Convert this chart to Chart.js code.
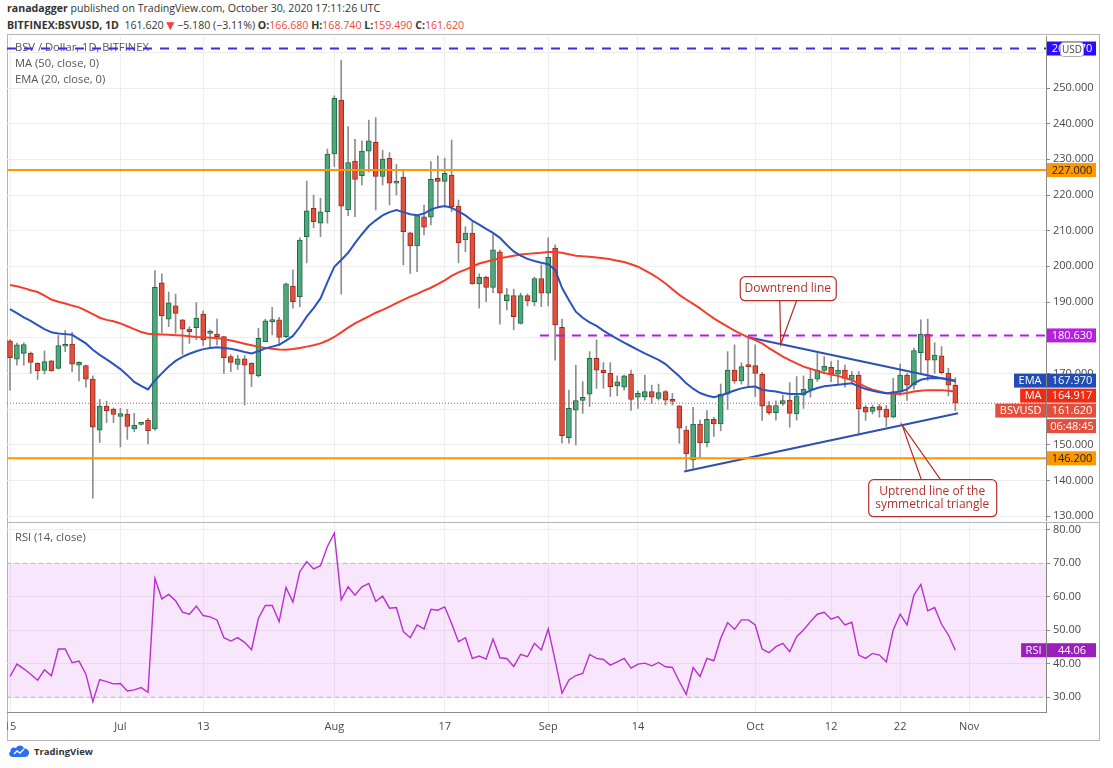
<!DOCTYPE html>
<html lang="en">
<head>
<meta charset="utf-8">
<title>BSVUSD 1D</title>
<script src="https://cdn.jsdelivr.net/npm/chart.js@4.4.1/dist/chart.umd.min.js"></script>
<style>
  body { margin: 0; background: #fff; font-family: "Open Sans", "DejaVu Sans", sans-serif; }
  #page { position: relative; width: 1113px; height: 768px; overflow: hidden; background: #fff; }
  .hdr { position: absolute; left: 7px; font-size: 10.6px; color: #333; white-space: nowrap; }
  #hdr1 { top: 1px; }
  #hdr2 { top: 18px; }
  .b { font-weight: bold; }
  .r { color: #f0463b; }
  #frame { position: absolute; left: 7px; top: 34px; width: 1093px; height: 707px; border: 1px solid #b5b5b5; box-sizing: border-box; }
  #priceBox { position: absolute; left: 7px; top: 36px; width: 1092px; height: 485px; }
  #rsiBox { position: absolute; left: 7px; top: 522px; width: 1092px; height: 218px; }
  #logo { position: absolute; left: 8px; top: 744px; font-size: 9.5px; font-weight: bold; color: #333; display: flex; align-items: center; gap: 4px; }
</style>
</head>
<body>
<div id="page">
  <div class="hdr" id="hdr1"><span class="b">ranadagger</span> published on TradingView.com, October 30, 2020 17:11:26 UTC</div>
  <div class="hdr" id="hdr2"><span class="b">BITFINEX:BSVUSD, 1D</span>&nbsp; 161.620 <span class="r">▼</span> −5.180 (−3.11%) <span class="b">O:</span><span class="r">166.680</span> <span class="b">H:</span><span class="r">168.740</span> <span class="b">L:</span><span class="r">159.490</span> <span class="b">C:</span><span class="r">161.620</span></div>
  <div id="frame"></div>
  <div id="priceBox"><canvas id="priceChart" width="1092" height="485"></canvas></div>
  <div id="rsiBox"><canvas id="rsiChart" width="1092" height="218"></canvas></div>
  <div id="logo">
    <svg width="22" height="14" viewBox="0 0 22 14"><path d="M5 13 C1 13 0 9 2.5 7.5 C2 4 5.5 2.5 8 4 C9.5 0.5 15 0.5 16 4.5 C19.5 4.5 21.5 7 21 9.5 C20.5 12 18.5 13 16.5 13 Z" fill="#2d6cf0"/><path d="M6 10 L9 7 L12 9 L16 5" stroke="#fff" stroke-width="1.4" fill="none"/></svg>
    <span>TradingView</span>
  </div>
</div>

<script>
// daily candles, 15 Jun 2020 (day 0) .. 30 Oct 2020 (day 137)
const opens = [
  179.1, 174.0, 175.6, 175.6, 172.8, 170.8, 173.5, 171.4, 177.6, 178.2,
  172.3, 172.2, 168.4, 154.1, 160.8, 160.0, 157.9, 158.6, 154.4, 155.7,
  156.9, 154.4, 195.4, 185.2, 188.9, 185.0, 182.4, 182.8, 186.6, 181.2,
  181.0, 180.3, 174.7, 172.5, 174.1, 172.8, 169.3, 178.9, 184.5, 185.0,
  180.3, 194.5, 191.5, 208.3, 216.3, 212.1, 215.3, 231.5, 246.6, 215.8,
  229.5, 225.4, 232.3, 234.8, 225.2, 230.3, 223.3, 225.0, 209.4, 205.7,
  213.9, 213.8, 224.7, 223.8, 225.6, 216.9, 207.4, 209.3, 195.1, 196.9,
  194.1, 204.1, 190.4, 191.8, 184.0, 191.8, 190.1, 196.6, 192.5, 205.1,
  182.9, 152.0, 159.7, 162.4, 164.2, 174.2, 170.9, 170.0, 166.5, 166.1,
  169.8, 163.3, 163.5, 164.9, 163.0, 164.9, 162.7, 160.9, 154.1, 145.7,
  155.8, 150.6, 157.1, 155.8, 164.2, 170.9, 167.9, 172.3, 172.2, 169.8,
  161.0, 159.0, 161.4, 162.5, 158.6, 163.9, 165.5, 168.4, 170.8, 171.7,
  169.8, 170.9, 168.3, 169.5, 160.5, 159.3, 160.7, 160.0, 157.7, 164.9,
  169.5, 166.7, 175.8, 181.0, 173.7, 174.9, 170.0, 166.68
];
const highs = [
  179.5, 178.5, 178.6, 176.0, 173.0, 176.3, 173.6, 180.6, 182.0, 181.5,
  173.2, 172.3, 169.3, 162.7, 162.2, 160.3, 160.2, 159.9, 158.8, 156.0,
  157.4, 198.8, 197.9, 192.8, 192.2, 185.1, 183.1, 189.8, 187.5, 182.2,
  185.2, 180.4, 175.2, 175.1, 175.0, 173.0, 182.6, 185.2, 188.5, 185.7,
  195.3, 199.0, 208.0, 223.9, 220.0, 219.1, 232.9, 247.8, 257.8, 239.2,
  235.6, 235.2, 241.0, 241.7, 232.6, 231.9, 228.6, 226.6, 209.6, 214.5,
  217.2, 229.4, 231.0, 230.3, 235.4, 218.6, 211.1, 212.5, 197.9, 197.3,
  209.1, 204.6, 193.8, 193.6, 192.5, 192.3, 197.0, 200.4, 208.0, 206.0,
  185.2, 165.3, 172.3, 167.7, 176.1, 179.4, 173.0, 173.0, 169.3, 169.5,
  170.9, 165.0, 169.5, 166.7, 167.0, 165.2, 164.4, 161.0, 155.2, 160.5,
  156.9, 159.6, 157.7, 167.0, 176.1, 178.0, 173.0, 180.3, 178.0, 170.3,
  162.1, 162.3, 163.9, 167.4, 169.1, 169.3, 171.4, 175.6, 174.7, 173.3,
  173.7, 172.3, 170.5, 170.5, 161.0, 161.1, 161.3, 161.0, 168.6, 172.6,
  170.0, 177.0, 185.0, 185.2, 178.6, 177.5, 171.4, 168.74
];
const lows = [
  165.3, 172.3, 172.3, 170.0, 168.3, 169.8, 170.6, 171.2, 176.1, 170.5,
  167.9, 166.1, 135.0, 150.6, 156.2, 156.2, 149.4, 151.5, 153.7, 155.5,
  150.2, 154.0, 181.4, 183.1, 181.2, 175.3, 178.4, 179.4, 177.7, 177.0,
  178.0, 170.0, 170.5, 171.1, 161.1, 166.3, 169.0, 178.9, 180.8, 178.0,
  180.0, 188.3, 188.7, 201.0, 210.8, 208.3, 212.1, 228.0, 192.2, 214.2,
  213.9, 222.8, 226.5, 215.8, 222.8, 217.2, 220.0, 200.4, 198.0, 198.5,
  208.8, 211.6, 216.3, 216.6, 215.3, 201.0, 204.1, 195.0, 188.3, 190.1,
  192.6, 183.8, 187.8, 182.2, 183.8, 188.9, 188.9, 188.7, 188.9, 173.7,
  150.4, 150.4, 149.9, 158.8, 160.7, 165.8, 165.8, 163.5, 163.7, 165.3,
  159.6, 160.2, 162.5, 161.6, 162.5, 161.1, 161.1, 150.4, 143.1, 143.4,
  146.2, 149.4, 152.3, 153.9, 159.9, 167.2, 167.0, 166.3, 163.5, 156.8,
  158.5, 156.9, 161.0, 154.9, 156.9, 160.2, 163.3, 167.7, 170.0, 167.7,
  167.0, 166.1, 167.4, 152.7, 156.8, 158.6, 157.7, 155.1, 157.5, 163.9,
  162.4, 165.6, 170.0, 168.0, 170.0, 169.8, 163.7, 159.49
];
const closes = [
  174.4, 178.0, 178.1, 173.1, 170.7, 173.3, 170.7, 177.8, 177.8, 172.6,
  173.1, 168.4, 154.9, 160.8, 159.5, 158.5, 158.7, 155.1, 155.4, 155.9,
  153.9, 194.1, 186.1, 189.8, 186.8, 182.4, 181.7, 185.5, 179.4, 181.6,
  180.3, 174.4, 173.1, 174.1, 172.3, 169.8, 179.8, 184.7, 185.0, 180.1,
  195.1, 190.1, 207.4, 215.6, 212.5, 215.3, 231.5, 247.1, 216.9, 229.1,
  224.4, 232.3, 235.2, 225.2, 230.1, 223.3, 223.9, 209.7, 205.7, 214.2,
  211.0, 224.4, 223.8, 226.1, 216.7, 206.6, 209.3, 195.1, 196.9, 194.1,
  204.6, 192.5, 192.0, 185.9, 191.8, 190.3, 196.6, 192.5, 202.5, 183.6,
  152.5, 160.2, 162.4, 163.3, 174.2, 170.9, 170.2, 166.3, 167.6, 169.3,
  162.7, 164.4, 164.9, 163.3, 164.6, 162.5, 162.1, 154.6, 147.4, 155.8,
  150.6, 157.1, 155.8, 164.2, 170.9, 167.9, 171.9, 171.9, 170.0, 160.8,
  159.0, 161.0, 162.4, 158.8, 163.7, 165.5, 168.4, 170.9, 172.0, 169.8,
  170.9, 168.6, 169.5, 160.0, 159.1, 160.5, 159.7, 157.7, 164.9, 169.5,
  166.7, 176.4, 181.0, 173.7, 175.1, 170.2, 166.7, 161.62
];
// MA (50, close) and EMA (20, close)
const ma50 = [
  194.8, 194.4, 193.9, 193.3, 192.8, 191.8, 190.7, 190.1, 189.6, 189.0,
  188.5, 187.6, 186.6, 185.6, 185.0, 184.6, 184.0, 183.2, 182.4, 181.6,
  181.1, 181.0, 180.9, 180.8, 180.7, 180.6, 180.4, 180.2, 180.1, 180.0,
  179.9, 179.6, 179.2, 178.8, 178.3, 177.9, 177.5, 177.1, 176.9, 176.7,
  176.6, 176.8, 177.1, 177.5, 177.9, 178.4, 179.2, 180.2, 181.5, 182.8,
  184.0, 185.0, 186.0, 187.0, 187.8, 188.7, 189.7, 190.6, 191.5, 192.3,
  193.2, 194.0, 195.0, 196.1, 197.3, 198.3, 199.1, 199.9, 200.8, 201.3,
  201.8, 202.3, 202.6, 203.0, 203.3, 203.5, 203.7, 203.8, 204.0, 204.0,
  203.8, 203.4, 203.0, 202.8, 202.7, 202.5, 202.3, 202.0, 201.6, 201.2,
  200.6, 199.9, 198.9, 197.8, 196.6, 195.2, 193.6, 192.0, 190.7, 189.5,
  188.2, 186.8, 185.4, 184.2, 183.1, 182.0, 181.0, 180.1, 179.3, 178.4,
  177.1, 175.9, 174.7, 173.7, 172.8, 171.9, 171.3, 170.7, 170.1, 169.7,
  169.3, 168.7, 168.1, 167.2, 166.2, 165.4, 164.9, 164.4, 164.3, 164.2,
  164.5, 164.9, 165.1, 165.3, 165.3, 165.3, 165.1, 164.917
];
const ema20 = [
  188.0, 186.9, 185.7, 184.7, 183.5, 182.4, 181.5, 181.2, 181.0, 180.8,
  179.6, 178.4, 176.6, 175.2, 173.9, 172.6, 171.2, 169.5, 167.6, 166.5,
  165.5, 168.0, 170.0, 171.9, 173.5, 174.6, 175.5, 176.2, 176.8, 177.1,
  177.3, 177.1, 176.9, 176.5, 176.0, 175.6, 176.2, 177.0, 177.5, 178.0,
  179.2, 180.5, 183.0, 185.9, 188.3, 191.0, 195.6, 199.9, 201.8, 203.8,
  206.5, 209.0, 211.3, 212.9, 214.3, 215.2, 215.8, 215.2, 214.6, 214.3,
  214.8, 215.9, 216.6, 216.9, 216.4, 215.4, 214.3, 212.8, 211.7, 210.5,
  209.4, 208.0, 206.0, 204.2, 203.0, 202.1, 201.5, 201.0, 200.6, 199.0,
  194.0, 190.5, 187.3, 185.6, 184.3, 183.3, 182.0, 180.8, 179.7, 178.6,
  177.6, 176.6, 175.6, 174.7, 173.8, 172.6, 170.9, 169.2, 167.2, 165.7,
  164.5, 163.8, 163.3, 163.8, 164.5, 165.2, 165.8, 166.2, 166.3, 165.4,
  165.1, 164.9, 164.5, 164.2, 164.2, 164.3, 165.2, 165.9, 166.4, 166.6,
  166.8, 167.0, 167.2, 166.4, 165.6, 165.1, 164.7, 164.4, 164.6, 164.9,
  165.5, 167.2, 168.2, 168.6, 168.7, 168.6, 168.4, 167.97
];
// RSI (14, close)
const rsi14 = [
  36.2, 39.9, 38.5, 36.9, 35.1, 38.2, 36.4, 44.4, 44.4, 40.3,
  40.8, 36.9, 28.7, 35.3, 34.7, 34.0, 34.1, 31.9, 32.2, 32.9,
  31.5, 65.5, 59.4, 60.7, 58.8, 55.4, 54.8, 57.2, 54.4, 54.0,
  53.1, 47.8, 46.8, 47.8, 46.4, 44.2, 53.6, 57.4, 57.4, 52.6,
  62.8, 58.4, 67.5, 70.5, 68.3, 69.3, 75.0, 79.0, 59.1, 63.0,
  60.5, 63.0, 64.0, 58.6, 60.2, 56.6, 56.8, 49.6, 47.8, 51.6,
  50.4, 56.3, 56.0, 57.0, 52.0, 46.6, 47.8, 41.6, 42.3, 41.4,
  47.4, 41.8, 41.6, 39.2, 42.8, 42.1, 46.1, 44.1, 50.4, 41.0,
  31.2, 35.2, 36.5, 37.1, 42.8, 41.6, 41.3, 39.6, 40.6, 41.6,
  38.7, 39.9, 40.2, 39.4, 40.4, 39.1, 38.9, 34.7, 30.9, 38.9,
  36.2, 41.6, 40.9, 47.6, 52.3, 50.3, 53.1, 53.1, 51.6, 44.4,
  43.3, 45.1, 46.1, 43.6, 48.1, 50.1, 52.6, 54.8, 55.4, 53.3,
  54.1, 51.6, 52.4, 42.6, 41.6, 43.1, 42.6, 40.6, 50.1, 54.8,
  51.6, 60.5, 63.7, 55.8, 56.8, 51.8, 48.6, 44.06
];

// axis ticks (day index from 15 Jun)
const dayTicks = [0, 16, 28, 47, 63, 78, 91, 108, 119, 129, 139];
const dayLabels = ["15", "Jul", "13", "Aug", "17", "Sep", "14", "Oct", "12", "22", "Nov"];
const priceTicks = [130, 140, 150, 160, 170, 180, 190, 200, 210, 220, 230, 240, 250, 260];
const rsiTicks = [30, 40, 50, 60, 70, 80];

// drawn levels and trendlines
const levelPrices = [227.0, 146.2];
const resistance = { price: 180.63, fromDay: 76.8 };
const topLevel = 261.07;
const downTrend = { days: [107, 137], prices: [180.1, 167.8] };
const upTrend = { days: [97.7, 137.4], prices: [142.5, 158.8] };
const rsiBand = [30, 70];

const days = closes.map((c, i) => i);
const lastClose = closes[closes.length - 1];
const xMin = -0.435, xMax = 150.14;

const upFill = "#4fa77b", upLine = "#1d6b45";
const downFill = "#e2503d", downLine = "#9f2a1c";
const fontFam = "'Open Sans', 'DejaVu Sans', sans-serif";

Chart.defaults.font.family = fontFam;
Chart.defaults.font.size = 11;
Chart.defaults.animation = false;

function flat(y, x0, x1) {
  return [{ x: x0, y: y }, { x: x1, y: y }];
}
function lineAt(t, d) {
  return t.prices[0] + (t.prices[1] - t.prices[0]) * (d - t.days[0]) / (t.days[1] - t.days[0]);
}
function lineDs(label, data, color, width, dash) {
  return {
    type: "line", label: label, data: data, borderColor: color, borderWidth: width,
    borderDash: dash || [], pointRadius: 0, tension: 0, fill: false, order: 1
  };
}
function tag(ctx, area, y, text, bg, fg, name) {
  ctx.font = "11px " + fontFam;
  ctx.textBaseline = "middle";
  const x0 = area.right + 1;
  ctx.fillStyle = bg;
  ctx.fillRect(x0, y - 7, 49, 14);
  ctx.fillStyle = fg;
  ctx.textAlign = "center";
  ctx.fillText(text, x0 + 25, y + 0.5);
  if (name) {
    const w = ctx.measureText(name).width + 9;
    ctx.fillStyle = bg;
    ctx.fillRect(area.right - w, y - 7, w, 14);
    ctx.fillStyle = fg;
    ctx.fillText(name, area.right - w / 2, y + 0.5);
  }
}

// texts, callouts and price tags of the main pane
const pricePaneExtras = {
  id: "pricePaneExtras",
  beforeDatasetsDraw(chart) {
    const ctx = chart.ctx;
    ctx.save();
    ctx.font = "11.2px " + fontFam;
    ctx.fillStyle = "#555";
    ctx.textBaseline = "middle";
    ctx.textAlign = "left";
    ctx.fillText("BSV / Dollar, 1D, BITFINEX", 8, 12);
    ctx.fillText("MA (50, close, 0)", 8, 28);
    ctx.fillText("EMA (20, close, 0)", 8, 44);
    ctx.restore();
  },
  afterDatasetsDraw(chart) {
    const ctx = chart.ctx, xs = chart.scales.x, ys = chart.scales.y;
    const callouts = [
      { trend: downTrend, day: 111.7, text: ["Downtrend line"], box: [-41, -68, 96, 24], base: [-1, 16] },
      { trend: upTrend, day: 129.3, text: ["Uptrend line of the", "symmetrical triangle"], box: [-34, 54, 128, 37], base: [19, 38] }
    ];
    ctx.save();
    callouts.forEach(c => {
      const tx = xs.getPixelForValue(c.day), ty = ys.getPixelForValue(lineAt(c.trend, c.day));
      const bx = tx + c.box[0], by = ty + c.box[1], bw = c.box[2], bh = c.box[3];
      const baseY = c.box[1] < 0 ? by + bh : by;
      ctx.strokeStyle = "#b3302a";
      ctx.lineWidth = 1.2;
      ctx.beginPath();
      ctx.moveTo(tx + c.base[0], baseY);
      ctx.lineTo(tx, ty);
      ctx.lineTo(tx + c.base[1], baseY);
      ctx.stroke();
      ctx.beginPath();
      ctx.roundRect(bx + 0.5, by + 0.5, bw, bh, 5);
      ctx.fillStyle = "#fff";
      ctx.fill();
      ctx.stroke();
      ctx.fillStyle = "#b3302a";
      ctx.font = "12px " + fontFam;
      ctx.textAlign = "center";
      ctx.textBaseline = "middle";
      const mid = by + bh / 2, lh = 13;
      c.text.forEach((s, i) => {
        ctx.fillText(s, bx + bw / 2, mid + (i - (c.text.length - 1) / 2) * lh + 0.5);
      });
    });
    ctx.restore();
  },
  afterDraw(chart) {
    const ctx = chart.ctx, area = chart.chartArea, ys = chart.scales.y;
    ctx.save();
    tag(ctx, area, ys.getPixelForValue(topLevel), topLevel.toFixed(3), "#2a0cff", "#fff");
    tag(ctx, area, ys.getPixelForValue(levelPrices[0]), levelPrices[0].toFixed(3), "#ff9800", "#222");
    tag(ctx, area, ys.getPixelForValue(levelPrices[1]), levelPrices[1].toFixed(3), "#ff9800", "#222");
    tag(ctx, area, ys.getPixelForValue(resistance.price), resistance.price.toFixed(3), "#b51fe0", "#fff");
    // stacked tags pushed apart like the platform does
    const stack = [
      { v: ema20[ema20.length - 1], name: "EMA", bg: "#1f4cb5" },
      { v: ma50[ma50.length - 1], name: "MA", bg: "#f4290f" },
      { v: lastClose, name: "BSVUSD", bg: "#e2503d" }
    ];
    let prev = -100;
    stack.forEach(s => {
      let y = Math.max(ys.getPixelForValue(s.v), prev + 15);
      tag(ctx, area, y, s.v.toFixed(3), s.bg, "#fff", s.name);
      prev = y;
    });
    tag(ctx, area, prev + 15.5, "06:48:45", "#e2503d", "#fff");
    // currency box
    ctx.beginPath();
    ctx.roundRect(area.right + 14.5, 6.5, 23, 14, 3);
    ctx.fillStyle = "#fff";
    ctx.fill();
    ctx.strokeStyle = "#b0b0b0";
    ctx.lineWidth = 1;
    ctx.stroke();
    ctx.fillStyle = "#444";
    ctx.font = "10px " + fontFam;
    ctx.textAlign = "center";
    ctx.textBaseline = "middle";
    ctx.fillText("USD", area.right + 26, 14);
    ctx.restore();
  }
};

new Chart(document.getElementById("priceChart"), {
  type: "bar",
  data: {
    datasets: [
      lineDs("EMA", days.map(d => ({ x: d, y: ema20[d] })), "#2b53c0", 2),
      lineDs("MA", days.map(d => ({ x: d, y: ma50[d] })), "#f53d2b", 2),
      lineDs("top", flat(topLevel, xMin, xMax), "#3a2cf0", 2, [9, 8]),
      lineDs("level1", flat(levelPrices[0], xMin, xMax), "#ff9800", 2),
      lineDs("level2", flat(levelPrices[1], xMin, xMax), "#ff9800", 2),
      lineDs("resistance", flat(resistance.price, resistance.fromDay, xMax), "#b51fe0", 2, [9, 7]),
      lineDs("close", flat(lastClose, xMin, xMax), "#e2503d", 1, [1, 2]),
      lineDs("downtrend", downTrend.days.map((d, i) => ({ x: d, y: downTrend.prices[i] })), "#2d4fb0", 2),
      lineDs("uptrend", upTrend.days.map((d, i) => ({ x: d, y: upTrend.prices[i] })), "#2d4fb0", 2),
      {
        type: "bar", label: "wicks", order: 10, grouped: false,
        data: days.map(d => ({ x: d, y: [lows[d], highs[d]] })),
        backgroundColor: "#8d8d8d", barThickness: 1
      },
      {
        type: "bar", label: "bodies", order: 9, grouped: false,
        data: days.map(d => ({ x: d, y: [opens[d], closes[d]] })),
        backgroundColor: c => closes[c.dataIndex] >= opens[c.dataIndex] ? upFill : downFill,
        borderColor: c => closes[c.dataIndex] >= opens[c.dataIndex] ? upLine : downLine,
        borderWidth: 1, borderSkipped: false, barThickness: 5, minBarLength: 2
      }
    ]
  },
  options: {
    responsive: false,
    devicePixelRatio: 1,
    layout: { padding: 0 },
    plugins: { legend: { display: false }, tooltip: { enabled: false } },
    scales: {
      x: {
        type: "linear", min: xMin, max: xMax, offset: false,
        grid: { color: "#eeeeee", drawTicks: false, offset: false },
        border: { display: false },
        ticks: { display: false },
        afterBuildTicks: s => { s.ticks = dayTicks.map(v => ({ value: v })); },
        afterFit: s => { s.height = 0; s.paddingLeft = 0; s.paddingRight = 0; }
      },
      y: {
        position: "right", min: 128.61, max: 264.58,
        grid: { color: "#eeeeee", tickColor: "#8a8a8a", tickLength: 4 },
        border: { color: "#8a8a8a" },
        ticks: { color: "#4a4a4a", padding: 3, callback: v => v.toFixed(3) },
        afterBuildTicks: s => { s.ticks = priceTicks.map(v => ({ value: v })); },
        afterFit: s => { s.width = 53; s.paddingTop = 0; s.paddingBottom = 0; }
      }
    }
  },
  plugins: [pricePaneExtras]
});

// RSI pane
const rsiPaneExtras = {
  id: "rsiPaneExtras",
  beforeDatasetsDraw(chart) {
    const ctx = chart.ctx;
    ctx.save();
    ctx.font = "11.2px " + fontFam;
    ctx.fillStyle = "#555";
    ctx.textBaseline = "middle";
    ctx.fillText("RSI (14, close)", 8, 16);
    ctx.restore();
  },
  afterDraw(chart) {
    const ctx = chart.ctx, area = chart.chartArea, ys = chart.scales.y;
    ctx.save();
    ctx.strokeStyle = "#b5b5b5";
    ctx.lineWidth = 1;
    ctx.beginPath();
    ctx.moveTo(0, 0.5);
    ctx.lineTo(chart.width, 0.5);
    ctx.stroke();
    const last = rsi14[rsi14.length - 1];
    tag(ctx, area, ys.getPixelForValue(last), last.toFixed(2), "#9c1fbd", "#fff", "RSI");
    ctx.restore();
  }
};

new Chart(document.getElementById("rsiChart"), {
  type: "line",
  data: {
    datasets: [
      { label: "RSI", data: days.map(d => ({ x: d, y: rsi14[d] })), borderColor: "#b92fcf", borderWidth: 1.4, pointRadius: 0, tension: 0, fill: false, order: 1 },
      { label: "upper", data: flat(rsiBand[1], xMin, xMax), borderColor: "#b9b9b9", borderWidth: 1, borderDash: [4, 4], pointRadius: 0, fill: "+1", backgroundColor: "rgba(220, 130, 245, 0.2)", order: 2 },
      { label: "lower", data: flat(rsiBand[0], xMin, xMax), borderColor: "#b9b9b9", borderWidth: 1, borderDash: [4, 4], pointRadius: 0, fill: false, order: 3 }
    ]
  },
  options: {
    responsive: false,
    devicePixelRatio: 1,
    layout: { padding: 0 },
    plugins: { legend: { display: false }, tooltip: { enabled: false } },
    scales: {
      x: {
        type: "linear", min: xMin, max: xMax, offset: false,
        grid: { color: "#eeeeee", drawTicks: false },
        border: { color: "#8a8a8a" },
        ticks: { color: "#4a4a4a", padding: 8, maxRotation: 0, autoSkip: false, callback: (v, i) => dayLabels[i] },
        afterBuildTicks: s => { s.ticks = dayTicks.map(v => ({ value: v })); },
        afterFit: s => { s.height = 28; s.paddingLeft = 0; s.paddingRight = 0; }
      },
      y: {
        position: "right", min: 25.61, max: 82.33,
        grid: { color: "#eeeeee", tickColor: "#8a8a8a", tickLength: 4 },
        border: { color: "#8a8a8a" },
        ticks: { color: "#4a4a4a", padding: 3, callback: v => v.toFixed(2) },
        afterBuildTicks: s => { s.ticks = rsiTicks.map(v => ({ value: v })); },
        afterFit: s => { s.width = 53; s.paddingTop = 0; s.paddingBottom = 0; }
      }
    }
  },
  plugins: [rsiPaneExtras]
});
</script>
</body>
</html>
